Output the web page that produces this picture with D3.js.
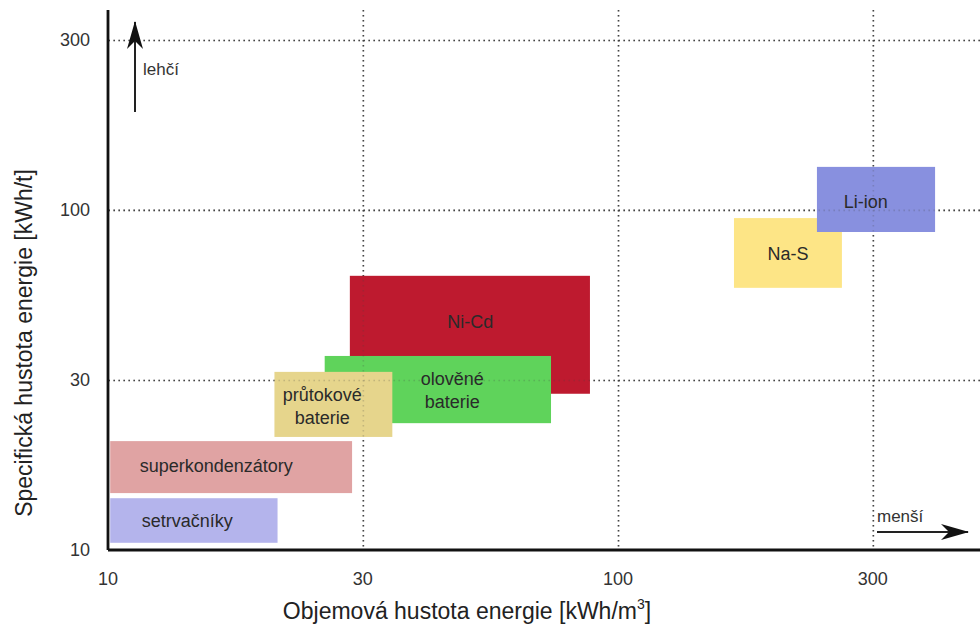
<!DOCTYPE html>
<html lang="cs">
<head>
  <meta charset="UTF-8">
  <title>Hustota energie akumulátorů</title>
  <script src="https://d3js.org/d3.v7.min.js"></script>
  <style>
    body { margin: 0; background: #fff; }
    svg { font-family: "Liberation Sans", Arial, sans-serif; }
    .grid line { stroke: #444; stroke-width: 1.6; stroke-dasharray: 1.6,3.4; }
    .grid path { display: none; }
    .grid.over line { stroke-opacity: 0.22; }
    .tick-label { fill: #333; font-size: 18px; }
    .box-label { fill: #2a2a2a; font-size: 18px; }
  </style>
</head>
<body>
<svg id="chart" width="980" height="632"></svg>
<script>
// technologie: rozsah objemové (x) a specifické (y) hustoty energie
const names = ["Ni-Cd", "olověné\nbaterie", "průtokové\nbaterie", "superkondenzátory", "setrvačníky", "Na-S", "Li-ion"];
const xMin = [29.8, 26.6, 21.2, 10.1, 10.1, 168.8, 245.5];
const xMax = [88.1, 73.9, 36.1, 30.1, 21.5, 274.8, 418.5];
const yMin = [28.8, 23.6, 21.5, 14.7, 10.5, 59.0, 86.1];
const yMax = [64.0, 37.2, 33.4, 20.9, 14.2, 94.6, 133.8];
const labelX = [51.3, 47.3, 26.3, 16.3, 14.3, 215.4, 306];
const labelY = [46.8, 29.5, 26.5, 17.7, 12.2, 74.2, 105.6];
const colors = ["#be1a2f", "#5fd35b", "#e6d58c", "#e0a3a3", "#b4b4ec", "#fde586", "#8890df"];

const tickValues = [10, 31.6, 100, 316];
const tickLabels = ["10", "30", "100", "300"];

const margin = { top: 10, right: 0, bottom: 82, left: 108 },
      width = 980 - margin.left - margin.right,
      height = 632 - margin.top - margin.bottom;

const svg = d3.select("#chart");
const g = svg.append("g").attr("transform", `translate(${margin.left},${margin.top})`);

const x = d3.scaleLog().domain([10, 512.6]).range([0, width]);
const y = d3.scaleLog().domain([10, 387]).range([height, 0]);

function drawGrid(cls) {
  g.append("g").attr("class", cls)
    .call(d3.axisBottom(x).tickValues(tickValues.slice(1)).tickSize(height).tickFormat(""));
  g.append("g").attr("class", cls)
    .attr("transform", `translate(${width},0)`)
    .call(d3.axisLeft(y).tickValues(tickValues.slice(1)).tickSize(width).tickFormat(""));
}

drawGrid("grid");

const boxes = names.map((n, i) => ({ name: n, x0: xMin[i], x1: xMax[i], y0: yMin[i], y1: yMax[i], lx: labelX[i], ly: labelY[i], color: colors[i] }));

g.selectAll("rect.box")
  .data(boxes)
  .enter().append("rect")
  .attr("class", "box")
  .attr("x", d => x(d.x0))
  .attr("y", d => y(d.y1))
  .attr("width", d => x(d.x1) - x(d.x0))
  .attr("height", d => y(d.y0) - y(d.y1))
  .attr("fill", d => d.color);

// mřížka slabě prosvítá přes obdélníky
drawGrid("grid over");

const labels = g.selectAll("text.box-label")
  .data(boxes)
  .enter().append("text")
  .attr("class", "box-label")
  .attr("text-anchor", "middle")
  .attr("transform", d => `translate(${x(d.lx)},${y(d.ly)})`);

labels.each(function(d) {
  const lines = d.name.split("\n");
  const t = d3.select(this);
  lines.forEach((l, k) => {
    t.append("tspan")
      .attr("x", 0)
      .attr("dy", k === 0 ? `${0.35 - (lines.length - 1) * 0.65}em` : "1.3em")
      .text(l);
  });
});

// osy
g.append("line").attr("x1", 0).attr("x2", 0).attr("y1", 0).attr("y2", height)
  .attr("stroke", "#111").attr("stroke-width", 2.8);
g.append("line").attr("x1", 0).attr("x2", width).attr("y1", height).attr("y2", height)
  .attr("stroke", "#111").attr("stroke-width", 2.8);

g.selectAll("text.xt")
  .data(tickValues)
  .enter().append("text")
  .attr("class", "tick-label")
  .attr("x", d => x(d))
  .attr("y", height + 35)
  .attr("text-anchor", "middle")
  .text((d, i) => tickLabels[i]);

g.selectAll("text.yt")
  .data(tickValues)
  .enter().append("text")
  .attr("class", "tick-label")
  .attr("x", -18)
  .attr("y", d => y(d))
  .attr("dy", "0.35em")
  .attr("text-anchor", "end")
  .text((d, i) => tickLabels[i]);

// popisky os
svg.append("text")
  .attr("x", 467).attr("y", 619)
  .attr("text-anchor", "middle")
  .attr("fill", "#222").style("font-size", "23px")
  .html("Objemová hustota energie [kWh/m<tspan dy='-10' font-size='14px'>3</tspan><tspan dy='10'>]</tspan>");

svg.append("text")
  .attr("transform", "translate(32,343) rotate(-90)")
  .attr("text-anchor", "middle")
  .attr("fill", "#222").style("font-size", "23px")
  .text("Specifická hustota energie [kWh/t]");

// šipky
svg.append("defs").append("marker")
  .attr("id", "head")
  .attr("viewBox", "0 0 28 16")
  .attr("refX", 27).attr("refY", 8)
  .attr("markerWidth", 28).attr("markerHeight", 16)
  .attr("markerUnits", "userSpaceOnUse")
  .attr("orient", "auto")
  .append("path")
  .attr("d", "M0,0 L28,8 L0,16 L8,8 Z")
  .attr("fill", "#111");

svg.append("line")
  .attr("x1", 135).attr("y1", 112).attr("x2", 135).attr("y2", 22)
  .attr("stroke", "#222").attr("stroke-width", 2)
  .attr("marker-end", "url(#head)");
svg.append("text")
  .attr("x", 143).attr("y", 75)
  .attr("fill", "#333").style("font-size", "17px")
  .text("lehčí");

svg.append("line")
  .attr("x1", 877).attr("y1", 532).attr("x2", 968).attr("y2", 532)
  .attr("stroke", "#222").attr("stroke-width", 2)
  .attr("marker-end", "url(#head)");
svg.append("text")
  .attr("x", 877).attr("y", 522)
  .attr("fill", "#333").style("font-size", "17px")
  .text("menší");
</script>
</body>
</html>
